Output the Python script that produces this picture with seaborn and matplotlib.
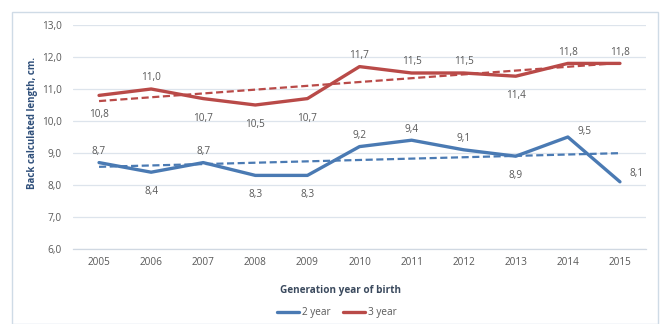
import numpy as np
import pandas as pd
import matplotlib
matplotlib.use("Agg")
import matplotlib.pyplot as plt
import seaborn as sns
from matplotlib.patches import Rectangle
from matplotlib.lines import Line2D

years = ["2005", "2006", "2007", "2008", "2009", "2010", "2011", "2012", "2013", "2014", "2015"]
two_year = [8.7, 8.4, 8.7, 8.3, 8.3, 9.2, 9.4, 9.1, 8.9, 9.5, 8.1]
three_year = [10.8, 11.0, 10.7, 10.5, 10.7, 11.7, 11.5, 11.5, 11.4, 11.8, 11.8]
series_names = ["2 year", "3 year"]
y_ticks = [6.0, 7.0, 8.0, 9.0, 10.0, 11.0, 12.0, 13.0]

# label placement (points offset)
two_pos = ["a", "b", "a", "b", "b", "a", "a", "a", "b", "ar", "r"]
three_pos = ["b", "a", "b", "b", "b", "a", "a", "a", "b", "a", "a"]

sns.set_theme(style="white")
plt.rcParams['font.family'] = ['Open Sans', 'DejaVu Sans']

blue = "#4A7AB3"
red = "#B94A48"
txt = "#595959"

df = pd.DataFrame({"year": years * 2,
                   "value": two_year + three_year,
                   "series": [series_names[0]] * len(years) + [series_names[1]] * len(years)})
df["x"] = list(range(len(years))) * 2

fig = plt.figure(figsize=(6.69, 3.24), dpi=100)
ax = fig.add_axes([73/669, 1 - 249/324, (646-73)/669, (249-25)/324])

sns.lineplot(data=df, x="x", y="value", hue="series", palette=[blue, red],
             linewidth=2.4, ax=ax, legend=False)

# linear trend lines
xs = np.arange(len(years))
for vals, col in [(two_year, blue), (three_year, red)]:
    k, b = np.polyfit(xs, vals, 1)
    ax.plot(xs, k * xs + b, color=col, linestyle=(0, (3.2, 1.6)), linewidth=1.6)

def place(vals, pos):
    for i, (v, p) in enumerate(zip(vals, pos)):
        dx, dy = 0, 0
        if p == "a":
            dy = 8
        elif p == "b":
            dy = -14
        elif p == "ar":
            dx, dy = 12, 4
        elif p == "r":
            dx, dy = 12, 6
        ax.annotate(f"{v:.1f}".replace(".", ","), (i, v), xytext=(dx, dy),
                    textcoords="offset points", ha="center", va="center",
                    fontsize=7.2, color=txt)

place(two_year, two_pos)
place(three_year, three_pos)

ax.set_xlim(-0.5, len(years) - 0.5)
ax.set_ylim(6.0, 13.0)
ax.set_yticks(y_ticks)
ax.set_yticklabels([f"{t:.1f}".replace(".", ",") for t in y_ticks], fontsize=7.2, color=txt)
ax.set_xticks(xs)
ax.set_xticklabels(years, fontsize=7.2, color=txt)
ax.set_xticks(np.arange(-0.5, len(years), 1.0), minor=True)
ax.tick_params(axis="x", which="major", length=0, pad=6)
ax.tick_params(axis="x", which="minor", length=3, color="#d0d8e2", width=0.8)
ax.tick_params(axis="y", length=0, pad=8)
ax.grid(axis="y", color="#dde4ec", linewidth=0.9)
ax.set_axisbelow(True)
for s in ["top", "right", "left"]:
    ax.spines[s].set_visible(False)
ax.spines["bottom"].set_color("#d0d8e2")
ax.spines["bottom"].set_linewidth(0.9)
ax.set_xlabel("")
ax.set_ylabel("")

fig.text(33/669, 1 - 123/324, "Back calculated length, cm.", rotation=90,
         ha="center", va="center", fontsize=7.0, fontweight="bold", color="#2F4F7A")
fig.text(340/669, 1 - 290/324, "Generation year of birth", ha="center", va="center",
         fontsize=7.2, fontweight="bold", color="#3B4A5E")

handles = [Line2D([], [], color=blue, linewidth=2.4), Line2D([], [], color=red, linewidth=2.4)]
leg = fig.legend(handles, series_names, loc="center", bbox_to_anchor=(337/669, 1 - 313/324),
                 ncol=2, frameon=False, fontsize=7.2, handlelength=2.2, handletextpad=0.3,
                 columnspacing=1.2)
for t in leg.get_texts():
    t.set_color(txt)

fig.patches.append(Rectangle((12/669, 0.0), (658-12)/669, 1 - 12/324, transform=fig.transFigure,
                             fill=False, edgecolor="#cfdbe6", linewidth=1.0))

fig.savefig("out.png", dpi=100)
